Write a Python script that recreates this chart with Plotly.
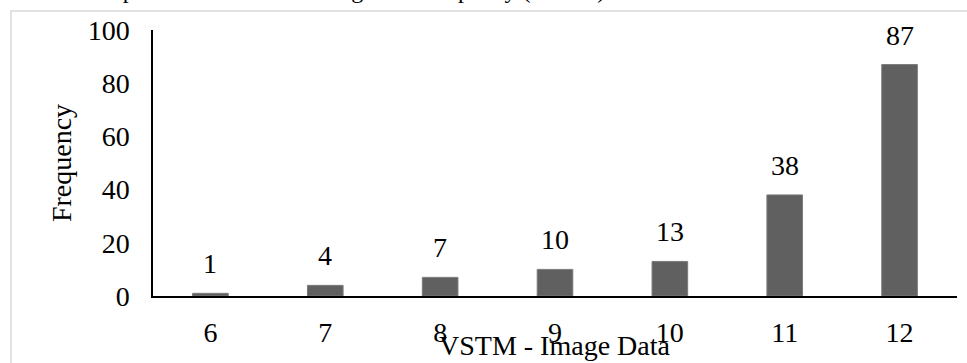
import plotly.graph_objects as go

categories = ["6", "7", "8", "9", "10", "11", "12"]
frequency = [1, 4, 7, 10, 13, 38, 87]
y_ticks = [0, 20, 40, 60, 80, 100]
x_title = "VSTM - Image Data"
y_title = "Frequency"
chart_title = "Sample Distribution for Image Data Capacity (VSTM)"

FONT = "Liberation Serif, Times New Roman, serif"
W, H = 967, 363
L, R, T, B = 153, 10, 30, 67
pw, ph = W - L - R, H - T - B

def px_x(px):
    return (px - L) / pw

def px_y(py):
    return (H - B - py) / ph

fig = go.Figure()
fig.add_trace(go.Bar(
    x=categories, y=frequency,
    marker=dict(color="#606060", line=dict(color="#7a7a7a", width=1)),
    width=0.31,
    hoverinfo="skip",
))

for i, v in enumerate(frequency):
    fig.add_annotation(x=i, y=v, xref="x", yref="y", text=str(v),
                       showarrow=False, yanchor="bottom", yshift=12,
                       font=dict(family=FONT, size=28, color="black"))

# clipped title at the very top (only its descenders show)
fig.add_annotation(x=px_x(342), y=px_y(5), xref="paper", yref="paper",
                   text=chart_title, showarrow=False, xanchor="center", yanchor="bottom",
                   font=dict(family=FONT, size=24, color="black"))

# x axis title (overlapping the tick labels as in the reference)
fig.add_annotation(x=0.5, y=px_y(345), xref="paper", yref="paper",
                   text=x_title, showarrow=False, xanchor="center", yanchor="middle",
                   font=dict(family=FONT, size=28, color="black"))

# outer light border of chart area
fig.add_shape(type="rect", xref="paper", yref="paper",
              x0=px_x(11), x1=px_x(1100), y0=px_y(600), y1=px_y(11),
              line=dict(color="#d9d9d9", width=1.5), fillcolor="rgba(0,0,0,0)", layer="below")

fig.update_layout(
    width=W, height=H,
    margin=dict(l=L, r=R, t=T, b=B),
    paper_bgcolor="white", plot_bgcolor="white",
    showlegend=False,
    font=dict(family=FONT, size=28, color="black"),
    xaxis=dict(type="category", range=[-0.5, len(categories) - 0.5],
               showgrid=False, zeroline=False, automargin=False,
               showline=True, linecolor="black", linewidth=2,
               ticks="", ticklabelstandoff=10,
               tickfont=dict(family=FONT, size=28, color="black")),
    yaxis=dict(range=[0, 100], tickvals=y_ticks, showgrid=False, zeroline=False,
               automargin=False,
               showline=True, linecolor="black", linewidth=1.5,
               ticks="", ticklabelstandoff=16,
               tickfont=dict(family=FONT, size=28, color="black"),
               title=dict(text=y_title, standoff=8,
                          font=dict(family=FONT, size=28, color="black"))),
)

fig.write_html("out.html", config={"displayModeBar": False})
